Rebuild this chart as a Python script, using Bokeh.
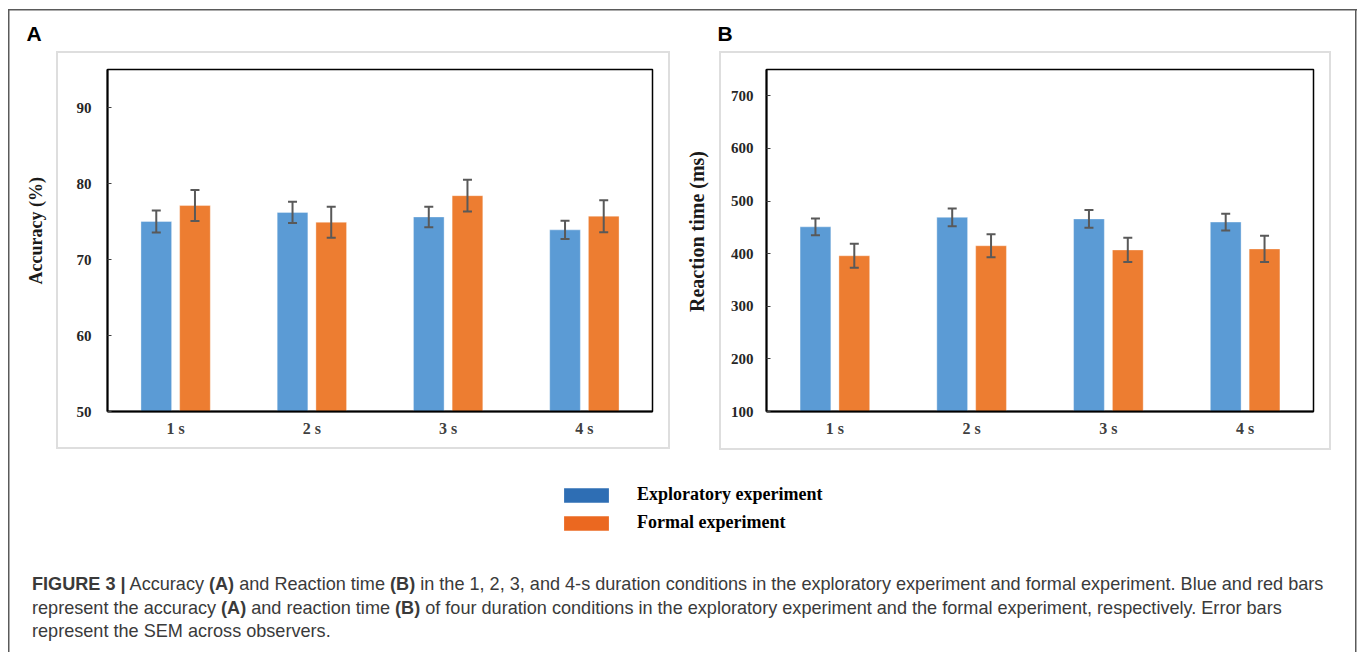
import math
from bokeh.plotting import figure
from bokeh.models import (FactorRange, Range1d, SingleIntervalTicker, Label,
                          Legend, LegendItem, Div, ColumnDataSource)
from bokeh.layouts import column, row
from bokeh.transform import dodge
from bokeh.embed import file_html
from bokeh.resources import INLINE

# ---------------- data ----------------
durations = ["1 s", "2 s", "3 s", "4 s"]
acc_exploratory = [75.0, 76.2, 75.6, 73.9]
acc_exploratory_sem = [1.45, 1.4, 1.35, 1.2]
acc_formal = [77.1, 74.9, 78.4, 75.7]
acc_formal_sem = [2.05, 2.05, 2.1, 2.1]
rt_exploratory = [451, 469, 466, 460]
rt_exploratory_sem = [16, 17, 17, 16]
rt_formal = [396, 415, 407, 409]
rt_formal_sem = [23, 22, 23, 25]
series_names = ["Exploratory experiment", "Formal experiment"]
panel_letters = ["A", "B"]
y_titles = ["Accuracy  (%)", "Reaction time (ms)"]

BAR_BLUE = "#5B9BD5"
BAR_ORANGE = "#ED7D31"
LEG_BLUE = "#2E6EB4"
LEG_ORANGE = "#EB6820"
ERR = "#595959"
BD = "#5a5a5a"
GB = "#dedede"
SERIF = "Liberation Serif"
SANS = "Liberation Sans"

LEFT_BORDER = "inset 8px 0 0 0 #fff, inset 9.5px 0 0 0 %s" % BD
RIGHT_BORDER = "inset -0.5px 0 0 0 #fff, inset -2px 0 0 0 %s" % BD


def deco_fig(width, height, shadow):
    p = figure(width=width, height=height, x_range=Range1d(0, 1), y_range=Range1d(0, 1),
               min_border=0, x_axis_location=None, y_axis_location=None,
               output_backend="svg", toolbar_location=None,
               styles={"box-shadow": shadow})
    p.margin = 0
    p.xgrid.visible = False
    p.ygrid.visible = False
    p.outline_line_color = None
    p.background_fill_color = None
    p.border_fill_color = None
    return p


def panel(width, height, mb, yrange, interval, expl, expl_sem, formal, formal_sem,
          label_standoff, shadow):
    p = figure(x_range=FactorRange(*durations), y_range=Range1d(*yrange),
               width=width, height=height,
               min_border_left=mb[0], min_border_right=mb[1],
               min_border_top=mb[2], min_border_bottom=mb[3],
               output_backend="svg", toolbar_location=None,
               styles={"box-shadow": shadow})
    p.margin = 0
    p.xgrid.visible = False
    p.ygrid.visible = False
    p.outline_line_color = "black"
    p.outline_line_width = 1.5
    p.background_fill_color = "white"
    p.border_fill_color = None

    xa = p.xaxis[0]
    xa.axis_line_color = "black"
    xa.axis_line_width = 2
    xa.major_tick_line_color = None
    xa.minor_tick_line_color = None
    xa.major_label_standoff = 2
    xa.major_label_text_font = SERIF
    xa.major_label_text_font_style = "bold"
    xa.major_label_text_font_size = "16px"
    xa.major_label_text_color = "#404040"

    ya = p.yaxis[0]
    ya.ticker = SingleIntervalTicker(interval=interval)
    ya.axis_line_color = "black"
    ya.axis_line_width = 2
    ya.major_tick_in = 4
    ya.major_tick_out = 0
    ya.major_tick_line_color = "#404040"
    ya.minor_tick_line_color = None
    ya.major_label_standoff = label_standoff
    ya.major_label_text_font = SERIF
    ya.major_label_text_font_style = "bold"
    ya.major_label_text_font_size = "15px"
    ya.major_label_text_color = "#262626"

    src = ColumnDataSource(dict(
        cat=durations,
        expl=expl,
        expl_lo=[v - s for v, s in zip(expl, expl_sem)],
        expl_hi=[v + s for v, s in zip(expl, expl_sem)],
        formal=formal,
        formal_lo=[v - s for v, s in zip(formal, formal_sem)],
        formal_hi=[v + s for v, s in zip(formal, formal_sem)],
    ))
    off = 0.142
    bw = 0.225
    for key, o, col in (("expl", -off, BAR_BLUE), ("formal", off, BAR_ORANGE)):
        xs = dodge("cat", o, range=p.x_range)
        p.vbar(x=xs, top=key, bottom=0, width=bw, source=src, fill_color=col,
               line_color="white", line_alpha=0.35, line_width=1)
    for key, o in (("expl", -off), ("formal", off)):
        xs = dodge("cat", o, range=p.x_range)
        p.segment(x0=xs, y0=key + "_lo", x1=xs, y1=key + "_hi", source=src,
                  line_color=ERR, line_width=2)
        p.scatter(x=xs, y=key + "_hi", marker="dash", size=9, source=src,
                  line_color=ERR, line_width=2)
        p.scatter(x=xs, y=key + "_lo", marker="dash", size=9, source=src,
                  line_color=ERR, line_width=2)
    return p


# ---------------- top strip with panel letters ----------------
pTop = deco_fig(1357, 51, "inset 8px 9px 0 0 #fff, inset 9.5px 10.5px 0 0 %s, %s" % (BD, RIGHT_BORDER))
for letter, lx in zip(panel_letters, (26, 717)):
    pTop.add_layout(Label(x=lx, y=33, x_units="canvas", y_units="canvas", text=letter,
                          text_font=SANS, text_font_style="bold", text_font_size="21px",
                          text_baseline="middle", text_align="left", text_color="black"))

# ---------------- y titles ----------------
tA = deco_fig(56, 409, LEFT_BORDER)
tA.add_layout(Label(x=35, y=177, x_units="canvas", y_units="canvas",
                    text=y_titles[0], angle=math.pi / 2,
                    text_font=SERIF, text_font_style="bold", text_font_size="18px",
                    text_align="center", text_baseline="middle", text_color="#1a1a1a"))
tB = deco_fig(39, 409, "none")
tB.add_layout(Label(x=16, y=180, x_units="canvas", y_units="canvas",
                    text=y_titles[1], angle=math.pi / 2,
                    text_font=SERIF, text_font_style="bold", text_font_size="20px",
                    text_align="center", text_baseline="middle", text_color="#1a1a1a"))

# ---------------- panels ----------------
pA = panel(624, 409, (51, 28, 18, 49), (50, 95), 10,
           acc_exploratory, acc_exploratory_sem, acc_formal, acc_formal_sem, 12,
           "inset -10px -11px 0 0 #fff, inset 2px 2px 0 0 %s, inset -12px -13px 0 0 %s" % (GB, GB))
pB = panel(638, 409, (47, 44, 18, 47), (100, 750), 100,
           rt_exploratory, rt_exploratory_sem, rt_formal, rt_formal_sem, 9,
           "%s, inset -26px -10px 0 0 #fff, inset 2px 2px 0 0 %s, inset -28px -12px 0 0 %s"
           % (RIGHT_BORDER, GB, GB))

# ---------------- legend ----------------
pL = deco_fig(1357, 100, LEFT_BORDER + ", " + RIGHT_BORDER)
r1 = pL.quad(left=[10], right=[11], top=[11], bottom=[10], fill_color=LEG_BLUE, line_color=None)
r2 = pL.quad(left=[10], right=[11], top=[11], bottom=[10], fill_color=LEG_ORANGE, line_color=None)
legend = Legend(items=[LegendItem(label=series_names[0], renderers=[r1]),
                       LegendItem(label=series_names[1], renderers=[r2])],
                location=(558, 27), orientation="vertical",
                glyph_width=56, glyph_height=18, label_standoff=23, spacing=7,
                padding=0, margin=0, border_line_color=None, background_fill_alpha=0,
                label_text_font=SERIF, label_text_font_style="bold",
                label_text_font_size="18px", label_text_color="black", label_height=14)
pL.add_layout(legend)

# ---------------- caption ----------------
caption_html = (
    "<b>FIGURE 3 |</b> Accuracy <b>(A)</b> and Reaction time <b>(B)</b> in the 1, 2, 3, and 4-s "
    "duration conditions in the exploratory experiment and formal experiment. Blue and red bars<br>"
    "represent the accuracy <b>(A)</b> and reaction time <b>(B)</b> of four duration conditions in the "
    "exploratory experiment and the formal experiment, respectively. Error bars<br>"
    "represent the SEM across observers."
)
cap = Div(text=caption_html, width=1357, height=92, margin=0,
          styles={"font-family": SANS, "font-size": "18.1px", "line-height": "23.5px",
                  "color": "#3a3a3a", "white-space": "nowrap",
                  "padding-top": "13px", "padding-left": "32px",
                  "box-sizing": "border-box",
                  "box-shadow": LEFT_BORDER + ", " + RIGHT_BORDER})

mid = row(tA, pA, tB, pB)
mid.spacing = 0
root = column(pTop, mid, pL, cap)
root.spacing = 0

open("out.html", "w").write(file_html(root, INLINE))
